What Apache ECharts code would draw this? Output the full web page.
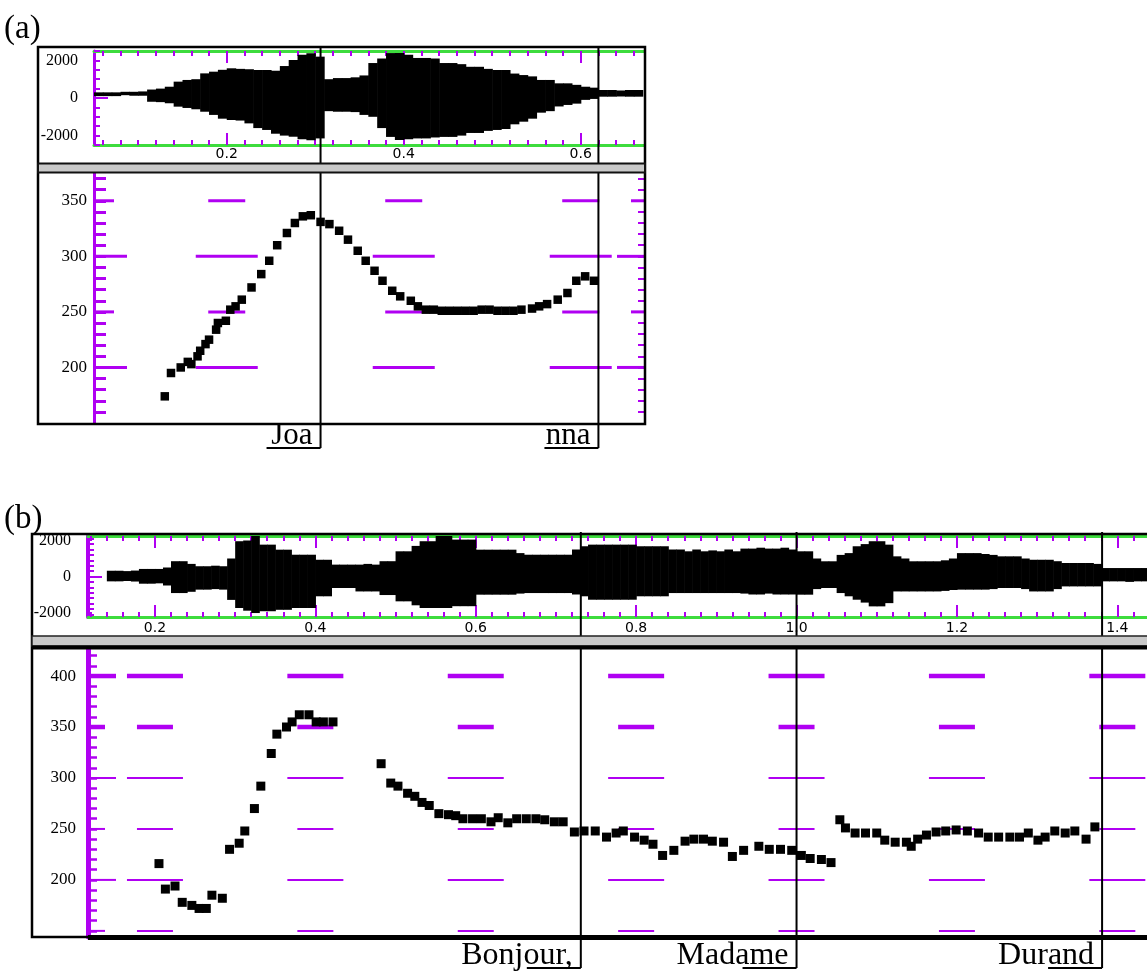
<!DOCTYPE html>
<html><head><meta charset="utf-8">
<script src="https://cdn.jsdelivr.net/npm/echarts@6/dist/echarts.min.js"></script>
<style>html,body{margin:0;padding:0;background:#fff;}#c{width:1147px;height:972px;}</style>
</head><body><div id="c"></div>
<script>
// ================= DATA =================
// (a) "Joanna" – waveform envelope, 10 ms frames (start time, max, min)
const waveATime = [0.05,0.06,0.07,0.08,0.09,0.10,0.11,0.12,0.13,0.14,0.15,0.16,0.17,0.18,0.19,0.20,0.21,0.22,0.23,0.24,0.25,0.26,0.27,0.28,0.29,0.30,0.31,0.32,0.33,0.34,0.35,0.36,0.37,0.38,0.39,0.40,0.41,0.42,0.43,0.44,0.45,0.46,0.47,0.48,0.49,0.50,0.51,0.52,0.53,0.54,0.55,0.56,0.57,0.58,0.59,0.60,0.61,0.62,0.63,0.64,0.65,0.66];
const waveAHigh = [300,300,300,330,330,350,450,500,600,870,960,1000,1310,1400,1500,1580,1550,1530,1490,1490,1450,1700,2020,2300,2380,2200,1000,1060,1060,1100,1200,1860,2100,2390,2390,2300,2130,2130,2100,1860,1860,1800,1660,1660,1550,1490,1490,1300,1220,1150,960,960,780,780,700,600,550,425,425,400,425,425];
const waveALow  = [100,100,100,150,120,120,-200,-220,-280,-460,-530,-600,-730,-900,-1100,-1170,-1200,-1350,-1600,-1700,-1900,-2000,-2060,-2200,-2250,-2150,-700,-730,-730,-750,-900,-1000,-1600,-2070,-2230,-2200,-2150,-2150,-2100,-2070,-2070,-2000,-1860,-1860,-1750,-1700,-1650,-1400,-1260,-1100,-780,-700,-450,-370,-300,-100,-50,70,70,80,70,70];
// (a) F0 (Hz)
const pitchATime = [0.130,0.137,0.148,0.156,0.160,0.167,0.170,0.176,0.180,0.188,0.190,0.199,0.204,0.210,0.217,0.228,0.239,0.248,0.257,0.268,0.277,0.286,0.295,0.306,0.316,0.327,0.337,0.348,0.357,0.367,0.376,0.387,0.396,0.408,0.416,0.425,0.434,0.443,0.452,0.461,0.470,0.479,0.488,0.497,0.506,0.515,0.524,0.533,0.545,0.553,0.562,0.574,0.585,0.595,0.605,0.615];
const pitchAHz   = [174,195,200,205,203,210,215,221,225,234,240,242,252,255,261,272,284,296,310,321,330,336,337,331,329,323,315,305,296,287,278,269,264,260,255,252,252,251,251,251,251,251,252,252,251,251,251,252,253,255,257,261,267,278,282,278];
// (a) segment ends and labels
const boundA = [0.306, 0.620];
const wordsA = ['Joa', 'nna'];

// (b) "Bonjour, Madame Durand" – waveform envelope
const waveBTime = [0.14,0.15,0.16,0.17,0.18,0.19,0.20,0.21,0.22,0.23,0.24,0.25,0.26,0.27,0.28,0.29,0.30,0.31,0.32,0.33,0.34,0.35,0.36,0.37,0.38,0.39,0.40,0.41,0.42,0.43,0.44,0.45,0.46,0.47,0.48,0.49,0.50,0.51,0.52,0.53,0.54,0.55,0.56,0.57,0.58,0.59,0.60,0.61,0.62,0.63,0.64,0.65,0.66,0.67,0.68,0.69,0.70,0.71,0.72,0.73,0.74,0.75,0.76,0.77,0.78,0.79,0.80,0.81,0.82,0.83,0.84,0.85,0.86,0.87,0.88,0.89,0.90,0.91,0.92,0.93,0.94,0.95,0.96,0.97,0.98,0.99,1.00,1.01,1.02,1.03,1.04,1.05,1.06,1.07,1.08,1.09,1.10,1.11,1.12,1.13,1.14,1.15,1.16,1.17,1.18,1.19,1.20,1.21,1.22,1.23,1.24,1.25,1.26,1.27,1.28,1.29,1.30,1.31,1.32,1.33,1.34,1.35,1.36,1.37,1.38,1.39,1.40,1.41,1.42,1.43];
const waveBHigh = [320,320,300,330,420,420,420,500,850,850,700,570,570,600,570,1000,1960,2000,2250,1770,1770,1490,1490,1210,1210,1210,930,930,660,660,660,660,700,660,850,850,1400,1400,1700,1960,1960,2250,2250,2050,2050,2050,1490,1490,1490,1490,1490,1300,1210,1210,1210,1210,1210,1210,1500,1680,1770,1770,1770,1770,1770,1770,1680,1680,1680,1680,1500,1500,1400,1500,1400,1450,1400,1500,1400,1550,1550,1600,1550,1550,1600,1500,1400,1400,1000,845,845,1200,1300,1680,1800,1960,1960,1770,1120,1000,845,845,845,845,900,1000,1300,1300,1300,1250,1200,1120,1120,1120,1000,930,930,930,850,750,750,750,750,700,470,470,470,470,470,470];
const waveBLow  = [-270,-270,-250,-280,-400,-400,-380,-500,-920,-920,-850,-730,-730,-700,-730,-1300,-1750,-1900,-2030,-1930,-1930,-1850,-1850,-1750,-1750,-1750,-1100,-1100,-640,-640,-640,-830,-830,-830,-1030,-1030,-1380,-1380,-1600,-1750,-1750,-1750,-1750,-1650,-1650,-1650,-1010,-1010,-1010,-1010,-1010,-950,-920,-920,-920,-920,-920,-920,-1000,-1100,-1290,-1290,-1290,-1290,-1290,-1290,-1100,-1100,-1100,-1100,-920,-920,-920,-920,-920,-920,-920,-920,-920,-950,-1000,-1000,-950,-1000,-1000,-1000,-1010,-1010,-700,-640,-640,-920,-1100,-1290,-1450,-1660,-1660,-1480,-830,-830,-830,-830,-830,-830,-800,-750,-730,-730,-730,-730,-700,-640,-640,-640,-700,-830,-830,-830,-700,-550,-550,-550,-550,-550,-270,-270,-270,-300,-270,-270];
// (b) F0 (Hz)
const pitchBTime = [0.205,0.213,0.225,0.234,0.246,0.255,0.264,0.271,0.284,0.293,0.305,0.312,0.324,0.332,0.345,0.352,0.364,0.371,0.380,0.392,0.401,0.410,0.422,
  0.482,0.494,0.503,0.515,0.524,0.533,0.542,0.554,0.566,0.575,0.584,0.596,0.607,0.619,0.628,0.640,0.651,0.663,0.675,0.686,0.698,0.709,0.723,0.735,0.749,0.763,0.775,0.784,0.798,0.810,0.821,0.833,0.847,0.861,0.872,0.884,0.895,0.909,0.920,0.934,0.953,0.966,0.980,0.994,1.006,1.017,1.031,1.043,
  1.054,1.061,1.073,1.086,1.100,1.110,1.123,1.137,1.143,1.151,1.162,1.174,1.186,1.199,1.213,1.227,1.239,1.252,1.266,1.278,1.289,1.301,1.310,1.322,1.335,1.347,1.361,1.372];
const pitchBHz = [216,191,194,178,175,172,172,185,182,230,236,248,270,292,324,343,350,355,362,362,355,355,355,
  314,295,292,285,282,276,273,265,264,263,260,260,260,257,261,256,260,260,260,259,257,257,247,248,248,242,246,248,242,239,235,224,229,238,240,240,238,237,223,229,233,230,230,229,224,221,220,217,
  259,251,246,246,246,239,237,237,233,240,244,247,248,249,248,246,242,242,242,242,246,239,242,248,246,248,240,252];
const boundB = [0.731, 1.000, 1.381];
const wordsB = ['Bonjour,', 'Madame', 'Durand'];

// axis tick labels
const timeLabelsA = [0.2, 0.4, 0.6];
const timeLabelsB = [0.2, 0.4, 0.6, 0.8, 1.0, 1.2, 1.4];
const ampLabels = [-2000, 0, 2000];
const hzLabelsA = [200, 250, 300, 350];
const hzLabelsB = [200, 250, 300, 350, 400];
// reference lines of the pitch displays
const refTimesA = [0.2, 0.4, 0.6];
const refLevelsA = [200, 250, 300, 350];
const refTimesB = [0.2, 0.4, 0.6, 0.8, 1.0, 1.2, 1.4];
const refLevelsB = [150, 200, 250, 300, 350, 400];

// ================= STYLE / LAYOUT =================
const MAG = '#b000f2', GREEN = '#3ddc3d';
const SERIF = '"Liberation Serif", "Times New Roman", serif';
const SANS = '"DejaVu Sans", sans-serif';
const xA = {min: 0.05, max: 0.6715};
const xB = {min: 0.1165, max: 1.437};

function steps(a, b, s) { const o = []; const n = Math.round((b - a) / s); for (let i = 0; i <= n; i++) o.push(+(a + i * s).toFixed(4)); return o; }

function xAxisSet(gi, r, majors, minors, labels, margin) {
  const c = {type: 'value', gridIndex: gi, min: r.min, max: r.max, splitLine: {show: false}};
  return [
    Object.assign({}, c, {position: 'bottom', axisLine: {show: true, onZero: false, lineStyle: {color: GREEN, width: 3}},
      axisTick: {show: true, inside: true, length: 12, customValues: majors, lineStyle: {color: MAG, width: 2}},
      axisLabel: {show: true, customValues: labels, formatter: v => (+v).toFixed(1), fontFamily: SANS, fontSize: 14, color: '#000', margin: margin}}),
    Object.assign({}, c, {position: 'bottom', axisLine: {show: false, onZero: false},
      axisTick: {show: true, inside: true, length: 5, customValues: minors, lineStyle: {color: MAG, width: 2}}, axisLabel: {show: false}}),
    Object.assign({}, c, {position: 'top', axisLine: {show: true, onZero: false, lineStyle: {color: GREEN, width: 3}},
      axisTick: {show: true, inside: true, length: 12, customValues: majors, lineStyle: {color: MAG, width: 2}}, axisLabel: {show: false}}),
    Object.assign({}, c, {position: 'top', axisLine: {show: false, onZero: false},
      axisTick: {show: true, inside: true, length: 5, customValues: minors, lineStyle: {color: MAG, width: 2}}, axisLabel: {show: false}})
  ];
}

const xAxes = [].concat(
  xAxisSet(0, xA, timeLabelsA, steps(0.06, 0.66, 0.02), timeLabelsA, 2),           // 0-3
  [{type: 'value', gridIndex: 1, min: xA.min, max: xA.max, show: false}],           // 4
  xAxisSet(2, xB, timeLabelsB, steps(0.12, 1.42, 0.02), timeLabelsB, 4),           // 5-8
  [{type: 'value', gridIndex: 3, min: xB.min, max: xB.max, show: false}]            // 9
);

function yAx(o) {
  return Object.assign({type: 'value', splitLine: {show: false}, axisLine: {show: false, onZero: false}, axisLabel: {show: false}}, o);
}
const plain = v => String(Math.round(v));
const yAxes = [
  yAx({gridIndex: 0, min: -2500, max: 2500, position: 'left', axisLine: {show: true, onZero: false, lineStyle: {color: MAG, width: 3}},
       axisTick: {show: true, inside: true, length: 6, customValues: steps(-2500, 2500, 500), lineStyle: {color: MAG, width: 2}},
       axisLabel: {show: true, customValues: ampLabels, formatter: plain, fontFamily: SERIF, fontSize: 16, color: '#000', margin: 16}}),
  yAx({gridIndex: 0, min: -2500, max: 2500, position: 'left', axisTick: {show: true, inside: true, length: 14, customValues: [0], lineStyle: {color: MAG, width: 2}}}),
  yAx({gridIndex: 1, min: 150, max: 375, position: 'left', axisLine: {show: true, onZero: false, lineStyle: {color: MAG, width: 3}},
       axisTick: {show: true, inside: true, length: 12, customValues: steps(160, 370, 10), lineStyle: {color: MAG, width: 3}},
       axisLabel: {show: true, customValues: hzLabelsA, formatter: plain, fontFamily: SERIF, fontSize: 17, color: '#000', margin: 7}}),
  yAx({gridIndex: 1, min: 150, max: 375, position: 'right', axisTick: {show: true, inside: true, length: 6, customValues: steps(160, 370, 10), lineStyle: {color: MAG, width: 2}}}),
  yAx({gridIndex: 2, min: -2250, max: 2250, position: 'left', axisLine: {show: true, onZero: false, lineStyle: {color: MAG, width: 4}},
       axisTick: {show: true, inside: true, length: 6, customValues: steps(-2100, 2100, 300), lineStyle: {color: MAG, width: 2}},
       axisLabel: {show: true, customValues: ampLabels, formatter: plain, fontFamily: SERIF, fontSize: 16, color: '#000', margin: 17}}),
  yAx({gridIndex: 2, min: -2250, max: 2250, position: 'left', axisTick: {show: true, inside: true, length: 14, customValues: [0], lineStyle: {color: MAG, width: 2}}}),
  yAx({gridIndex: 3, min: 144, max: 427.5, position: 'left', axisLine: {show: true, onZero: false, lineStyle: {color: MAG, width: 5}},
       axisTick: {show: true, inside: true, length: 9, customValues: steps(150, 420, 10), lineStyle: {color: MAG, width: 2.5}},
       axisLabel: {show: true, customValues: hzLabelsB, formatter: plain, fontFamily: SERIF, fontSize: 17, color: '#000', margin: 12}})
];

// ================= RENDERERS =================
function waveRender(step) {
  return function (params, api) {
    const t = api.value(0);
    const p1 = api.coord([t, api.value(1)]), p2 = api.coord([t + step, api.value(2)]);
    return {type: 'rect', shape: {x: p1[0], y: p1[1], width: p2[0] - p1[0] + 0.6, height: p2[1] - p1[1]}, style: {fill: '#000'}};
  };
}
function boundWaveRender(below) {
  return function (params, api) {
    const cs = params.coordSys; const x = api.coord([api.value(0), 0])[0];
    return {type: 'line', shape: {x1: x, y1: cs.y - 4, x2: x, y2: cs.y + cs.height + below}, style: {stroke: '#000', lineWidth: 2}};
  };
}
function refRender(st) {
  return function (params, api) {
    const t = api.value(0), lev = api.value(1), kind = api.value(2);
    const cs = params.coordSys; const p = api.coord([t, lev]);
    const major = lev % 100 === 0;
    let x1, x2;
    if (kind === 0) { const h = major ? st.longHalf : st.shortHalf; x1 = p[0] - h; x2 = p[0] + h; }
    else if (kind === 1) { x1 = cs.x; x2 = cs.x + (major ? st.leftLong : st.leftShort); }
    else { x2 = cs.x + cs.width; x1 = x2 - (major ? st.rightLong : st.rightShort); }
    return {type: 'line', shape: {x1: x1, y1: p[1], x2: x2, y2: p[1]}, style: {stroke: MAG, lineWidth: st.width(lev)}};
  };
}
function refData(times, levels, xmin, withRight) {
  const d = [];
  levels.forEach(l => { times.forEach(t => d.push([t, l, 0])); d.push([xmin, l, 1]); if (withRight) d.push([xmin, l, 2]); });
  return d;
}
function wordRender(words, yRef, drop, fs) {
  return function (params, api) {
    const cs = params.coordSys; const x = api.coord([api.value(0), yRef])[0];
    const yb = cs.y + cs.height + drop;
    return {type: 'group', children: [
      {type: 'line', shape: {x1: x, y1: cs.y, x2: x, y2: yb}, style: {stroke: '#000', lineWidth: 2}},
      {type: 'line', shape: {x1: x - 54, y1: yb, x2: x, y2: yb}, style: {stroke: '#000', lineWidth: 2}},
      {type: 'text', style: {text: words[api.value(1)], x: x - 8, y: yb - 2 - 0.34 * fs, align: 'right', verticalAlign: 'middle',
        font: fs + 'px "Liberation Serif"', fill: '#000'}}
    ]};
  };
}

const dotStyle = {color: '#000', opacity: 1};
const series = [
  {type: 'custom', xAxisIndex: 0, yAxisIndex: 0, z: 3, silent: true, renderItem: waveRender(0.01),
   data: waveATime.map((t, i) => [t, waveAHigh[i], waveALow[i]]), encode: {x: 0, y: [1, 2]}},
  {type: 'custom', xAxisIndex: 0, yAxisIndex: 0, z: 4, silent: true, renderItem: boundWaveRender(19), data: boundA.map(t => [t])},
  {type: 'custom', xAxisIndex: 4, yAxisIndex: 2, z: 2, silent: true,
   renderItem: refRender({longHalf: 31, shortHalf: 18.5, leftLong: 33, leftShort: 20, rightLong: 27, rightShort: 13, width: () => 3}),
   data: refData(refTimesA, refLevelsA, xA.min, true)},
  {type: 'scatter', xAxisIndex: 4, yAxisIndex: 2, z: 5, silent: true, symbol: 'rect', symbolSize: 8.5, itemStyle: dotStyle,
   data: pitchATime.map((t, i) => [t, pitchAHz[i]])},
  {type: 'custom', xAxisIndex: 4, yAxisIndex: 2, z: 4, silent: true, renderItem: wordRender(wordsA, 150, 25, 31),
   data: boundA.map((t, i) => [t, i])},

  {type: 'custom', xAxisIndex: 5, yAxisIndex: 4, z: 3, silent: true, renderItem: waveRender(0.01),
   data: waveBTime.map((t, i) => [t, waveBHigh[i], waveBLow[i]]), encode: {x: 0, y: [1, 2]}},
  {type: 'custom', xAxisIndex: 5, yAxisIndex: 4, z: 4, silent: true, renderItem: boundWaveRender(19), data: boundB.map(t => [t])},
  {type: 'custom', xAxisIndex: 9, yAxisIndex: 6, z: 2, silent: true,
   renderItem: refRender({longHalf: 28, shortHalf: 18, leftLong: 28, leftShort: 17, rightLong: 0, rightShort: 0, width: l => (l >= 350 ? 4.5 : 2)}),
   data: refData(refTimesB, refLevelsB, xB.min, false)},
  {type: 'scatter', xAxisIndex: 9, yAxisIndex: 6, z: 5, silent: true, symbol: 'rect', symbolSize: 9, itemStyle: dotStyle,
   data: pitchBTime.map((t, i) => [t, pitchBHz[i]])},
  {type: 'custom', xAxisIndex: 9, yAxisIndex: 6, z: 4, silent: true, renderItem: wordRender(wordsB, 150, 31, 32),
   data: boundB.map((t, i) => [t, i])}
];

const graphic = [
  {type: 'rect', z: 50, shape: {x: 38, y: 47, width: 607, height: 377}, style: {fill: 'none', stroke: '#000', lineWidth: 2.5}},
  {type: 'rect', z: 51, shape: {x: 38, y: 163.5, width: 607, height: 9}, style: {fill: '#c9c9c9', stroke: '#111', lineWidth: 2}},
  {type: 'rect', z: 50, shape: {x: 32, y: 534, width: 1130, height: 403}, style: {fill: 'none', stroke: '#000', lineWidth: 2.5}},
  {type: 'rect', z: 51, shape: {x: 32, y: 636, width: 1130, height: 10}, style: {fill: '#c9c9c9', stroke: '#222', lineWidth: 1.5}},
  {type: 'line', z: 52, shape: {x1: 32, y1: 647.5, x2: 1147, y2: 647.5}, style: {stroke: '#000', lineWidth: 4}},
  {type: 'line', z: 52, shape: {x1: 88, y1: 937.5, x2: 1147, y2: 937.5}, style: {stroke: '#000', lineWidth: 5}},
  {type: 'text', z: 60, style: {text: '(a)', x: 4, y: 29, verticalAlign: 'middle', font: '33px "Liberation Serif"', fill: '#000'}},
  {type: 'text', z: 60, style: {text: '(b)', x: 4, y: 519, verticalAlign: 'middle', font: '33px "Liberation Serif"', fill: '#000'}}
];

const chart = echarts.init(document.getElementById('c'), null, {renderer: 'canvas'});
chart.setOption({
  animation: false,
  backgroundColor: '#fff',
  grid: [
    {left: 94, top: 51, width: 550, height: 94},
    {left: 94, top: 173, width: 550, height: 250},
    {left: 88, top: 536, width: 1059, height: 81},
    {left: 88, top: 648, width: 1059, height: 289}
  ],
  xAxis: xAxes,
  yAxis: yAxes,
  series: series,
  graphic: graphic
});
</script></body></html>
